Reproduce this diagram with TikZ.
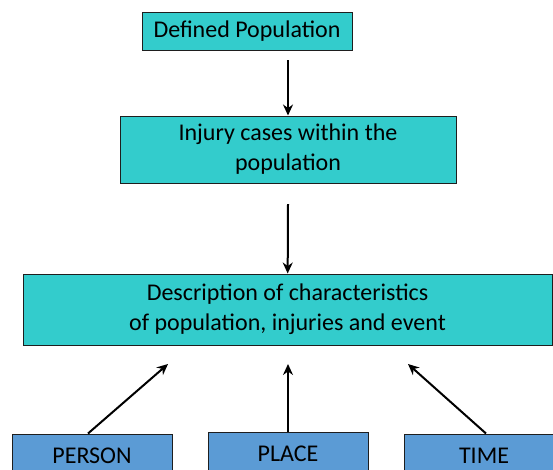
\documentclass[tikz,border=0pt]{standalone}
\usepackage{fontspec}
\setmainfont{Carlito}
\usepackage{tikz}
\usetikzlibrary{positioning,arrows.meta,calc}
\definecolor{dTeal}{RGB}{51,204,204}
\definecolor{dBlue}{RGB}{91,155,213}
\definecolor{dLine}{RGB}{30,30,30}
\tikzset{
  stage/.style={rectangle, draw=dLine, line width=1pt, fill=dTeal,
                align=center, inner sep=0pt,
                font=\fontsize{24}{30}\selectfont},
  factor/.style={stage, fill=dBlue, minimum width=160pt, minimum height=44pt},
  flow/.style={-{Stealth[length=11pt,width=10pt]}, draw=black, line width=2pt},
}
\begin{document}
\begin{tikzpicture}[x=1pt,y=-1pt]
  \clip (0,0) rectangle (553,469);
  \fill[white] (0,0) rectangle (553,469);

  % ===== main chain =====================================================
  \node[stage, minimum width=210pt, minimum height=38pt] (pop) at (247,31)
       {Defined Population};
  \node[stage, minimum width=336pt, minimum height=67pt] (inj) at (288,149.5)
       {Injury cases within the\\population};
  \node[stage, minimum width=529pt, minimum height=71pt] (desc) at (287.5,309.5)
       {Description of characteristics\\of population, injuries and event};

  % ===== person / place / time ==========================================
  \node[factor] (person) at (92,456) {PERSON};
  \node[factor] (place) at (288,454) {PLACE};
  \node[factor] (time) at (484,456) {TIME};

  % ===== arrows =========================================================
  \coordinate (a1) at (288,60);
  \coordinate (a2) at (288,204);
  \draw[flow] (a1) -- (inj);
  \draw[flow] (a2) -- (desc);
  \coordinate (pe) at (168,364);
  \coordinate (pl) at (288,364);
  \coordinate (ti) at (408,364);
  \draw[flow] ($(person.north)+(-4,0)$) -- (pe);
  \draw[flow] (place.north) -- (pl);
  \draw[flow] ($(time.north)+(2,0)$) -- (ti);

\end{tikzpicture}
\end{document}
